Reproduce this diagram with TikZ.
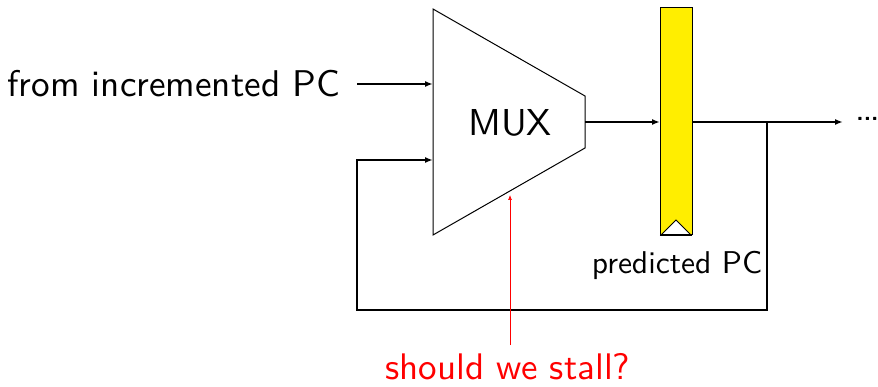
\documentclass[tikz,border=0pt]{standalone}
\usetikzlibrary{arrows.meta}
\renewcommand{\familydefault}{\sfdefault}
\begin{document}
\begin{tikzpicture}[x=1pt,y=-1pt,
  wire/.style={line width=1.7pt,-{Latex[length=8pt,width=6pt]}},
  txt/.style={inner sep=0pt,font=\fontsize{10}{12}\selectfont,transform shape}]
\useasboundingbox (0,0) rectangle (878,387);
% multiplexer body
\draw[line width=1pt] (433,9) -- (585,96) -- (585,148) -- (433,235) -- cycle;
\node[txt,scale=3.75] (mux) at (510,123) {MUX};
\coordinate (in1) at (433,84);
\coordinate (in2) at (433,160);
\coordinate (mout) at (585,122);
\coordinate (sel) at (510,195);
% pipeline register
\draw[line width=1pt,fill={rgb,255:red,255;green,238;blue,0}] (660,8) rectangle (692,235);
\draw[line width=1pt,fill=white] (661,235) -- (676,220) -- (691,235) -- cycle;
\draw[line width=1.8pt] (660,235) -- (692,235);
\coordinate (rin) at (660,122);
\coordinate (rout) at (692,122);
\node[txt,scale=3.15] (rlbl) at (677,265) {predicted PC};
% labels
\node[txt,scale=3.72,anchor=east] (src) at (341,84) {from incremented PC};
\node[txt,scale=2.4,anchor=west,font=\fontsize{10}{12}\selectfont\bfseries] (dots) at (856,119) {...};
\coordinate (branch) at (767,122);
\coordinate (fork) at (843,122);
\node[txt,scale=3.7,text=red] (stall) at (508,367) {should we stall?};
% wires
\draw[wire] (357,84) -- (in1);
\draw[wire] (mout) -- (rin);
\draw[wire] (rout) -- (fork);
\draw[wire] (branch) -- (767,310) -- (357,310) -- (357,160) -- (in2);
\draw[red,line width=0.7pt,-{Latex[length=5pt,width=4pt]}] (510,345) -- (sel);
\end{tikzpicture}
\end{document}
